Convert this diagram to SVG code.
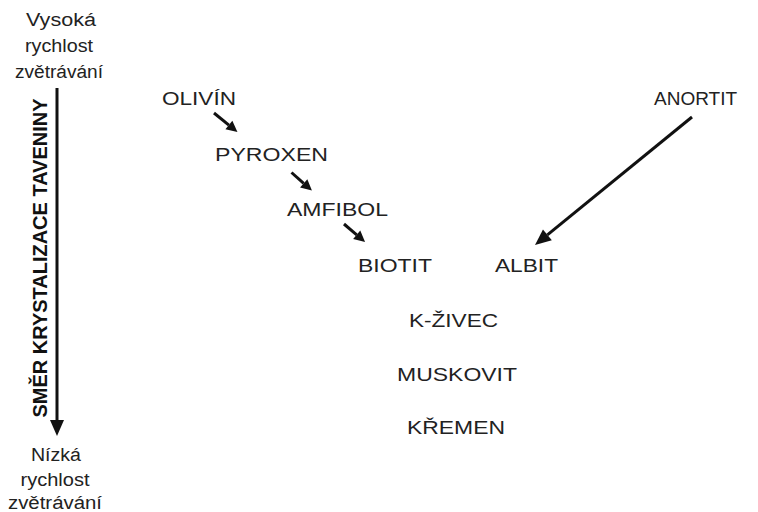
<svg xmlns="http://www.w3.org/2000/svg" width="758" height="512" viewBox="0 0 758 512">
  <style>
    .side { font-family: "Liberation Sans", Arial, sans-serif; font-size: 18px; fill: #222; text-anchor: middle; }
    .axis { font-family: "Liberation Sans", Arial, sans-serif; font-size: 19.5px; font-weight: bold; fill: #111; text-anchor: middle; }
    .min { font-family: "Liberation Sans", Arial, sans-serif; font-size: 19px; fill: #222; }
    .link { stroke: #111; stroke-width: 3; fill: none; }
  </style>
  <defs>
    <marker id="headSmall" viewBox="0 -8 16 16" refX="0" refY="0" markerWidth="16" markerHeight="16" markerUnits="userSpaceOnUse" orient="auto" overflow="visible">
      <path d="M0,-5.5 L11,0 L0,5.5 z" fill="#111"/>
    </marker>
    <marker id="headLarge" viewBox="0 -10 20 20" refX="0" refY="0" markerWidth="20" markerHeight="20" markerUnits="userSpaceOnUse" orient="auto" overflow="visible">
      <path d="M0,-7 L16,0 L0,7 z" fill="#111"/>
    </marker>
  </defs>

  <!-- weathering-rate scale on the left -->
  <g id="high-rate">
    <text class="side" x="61" y="26" textLength="70" lengthAdjust="spacingAndGlyphs">Vysoká</text>
    <text class="side" x="59" y="52" textLength="68" lengthAdjust="spacingAndGlyphs">rychlost</text>
    <text class="side" x="59" y="78" textLength="88" lengthAdjust="spacingAndGlyphs">zvětrávání</text>
  </g>
  <g id="low-rate">
    <text class="side" x="56" y="461" textLength="50" lengthAdjust="spacingAndGlyphs">Nízká</text>
    <text class="side" x="55" y="486" textLength="69" lengthAdjust="spacingAndGlyphs">rychlost</text>
    <text class="side" x="55" y="509" textLength="94" lengthAdjust="spacingAndGlyphs">zvětrávání</text>
  </g>
  <g id="axis-label">
    <text class="axis" transform="translate(47,258) rotate(-90)" x="0" y="0" textLength="319" lengthAdjust="spacingAndGlyphs">SMĚR KRYSTALIZACE TAVENINY</text>
  </g>

  <!-- minerals -->
  <g id="olivin"><text class="min" x="162" y="105" textLength="74" lengthAdjust="spacingAndGlyphs">OLIVÍN</text></g>
  <g id="pyroxen"><text class="min" x="215" y="161" textLength="113" lengthAdjust="spacingAndGlyphs">PYROXEN</text></g>
  <g id="amfibol"><text class="min" x="287" y="216" textLength="101" lengthAdjust="spacingAndGlyphs">AMFIBOL</text></g>
  <g id="biotit"><text class="min" x="358" y="272" textLength="74" lengthAdjust="spacingAndGlyphs">BIOTIT</text></g>
  <g id="anortit"><text class="min" x="654" y="105">ANORTIT</text></g>
  <g id="albit"><text class="min" x="495" y="272" textLength="63" lengthAdjust="spacingAndGlyphs">ALBIT</text></g>
  <g id="k-zivec"><text class="min" x="409" y="327" textLength="89" lengthAdjust="spacingAndGlyphs">K-ŽIVEC</text></g>
  <g id="muskovit"><text class="min" x="397" y="381" textLength="120" lengthAdjust="spacingAndGlyphs">MUSKOVIT</text></g>
  <g id="kremen"><text class="min" x="407" y="434" textLength="98" lengthAdjust="spacingAndGlyphs">KŘEMEN</text></g>

  <!-- connectors -->
  <g id="connectors">
    <line class="link" x1="57" y1="88" x2="57" y2="420" marker-end="url(#headLarge)"/>
    <line class="link" x1="214" y1="113" x2="228.9" y2="125.1" marker-end="url(#headSmall)"/>
    <line class="link" x1="291.5" y1="172.5" x2="303.7" y2="183.3" marker-end="url(#headSmall)"/>
    <line class="link" x1="344" y1="224" x2="356.7" y2="234.8" marker-end="url(#headSmall)"/>
    <line class="link" x1="692" y1="117" x2="547.4" y2="234.9" marker-end="url(#headLarge)"/>
  </g>
</svg>
